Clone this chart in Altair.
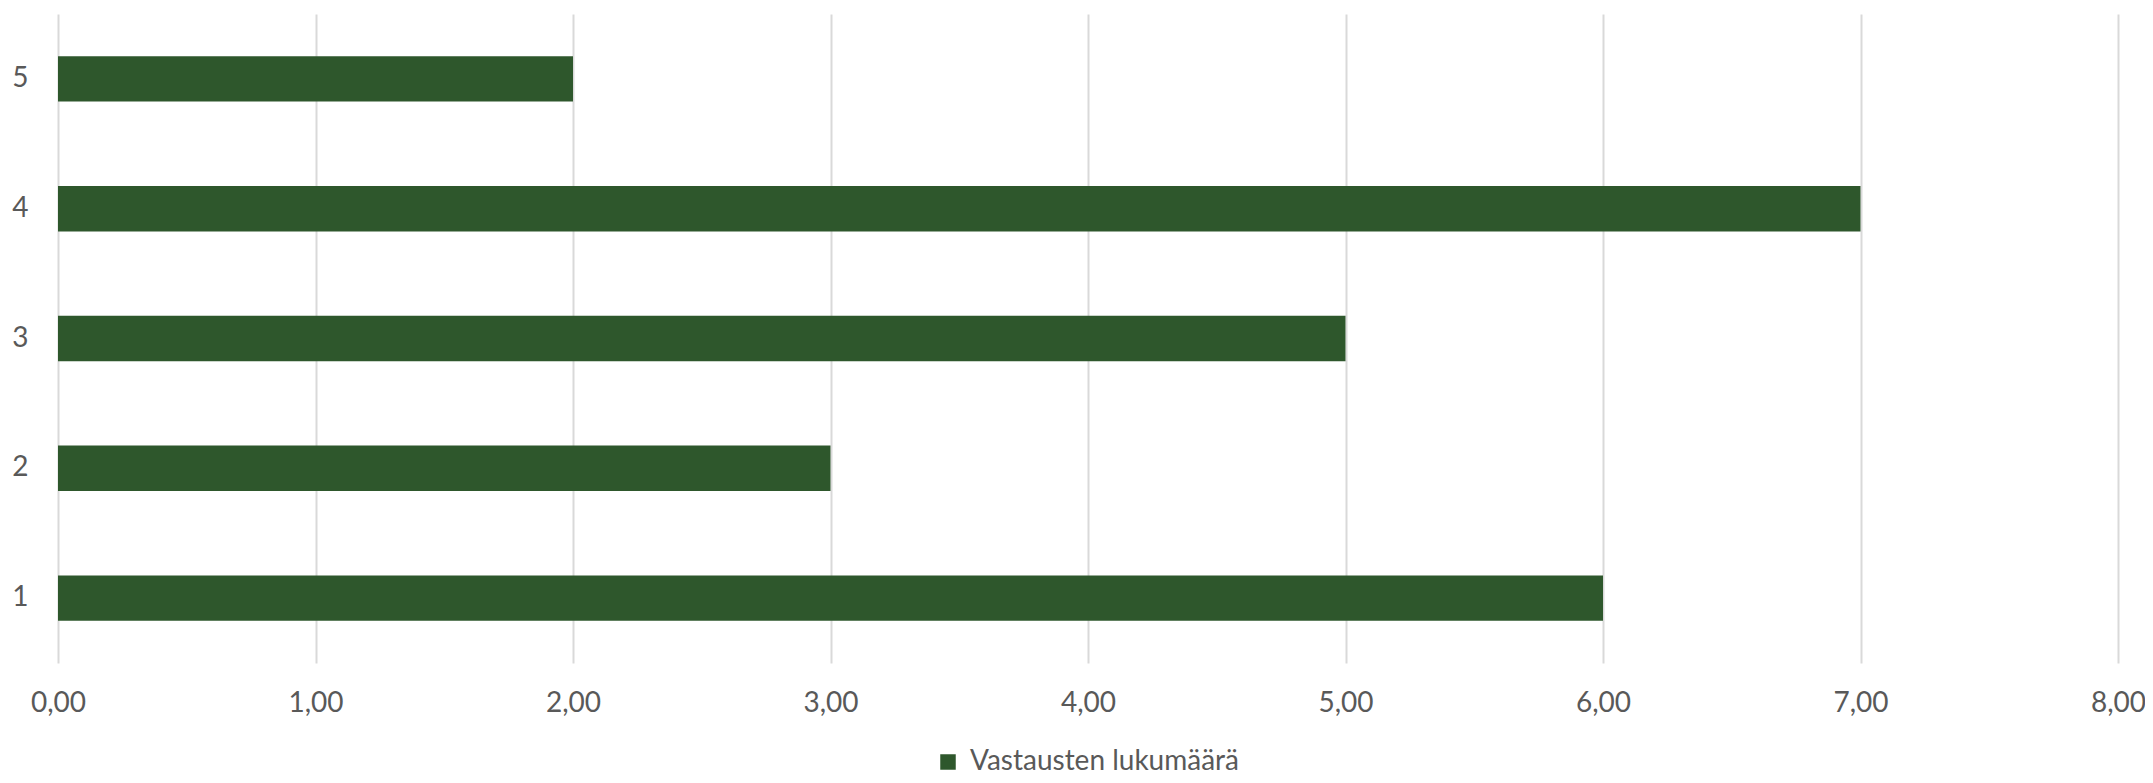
import altair as alt
import pandas as pd

categories = ["1", "2", "3", "4", "5"]
values = [6, 3, 5, 7, 2]
series_name = "Vastausten lukumäärä"
x_ticks = [0, 1, 2, 3, 4, 5, 6, 7, 8]

df = pd.DataFrame({"kategoria": categories, "arvo": values, "sarja": [series_name] * len(categories)})

FONT = "Lato"
TEXT = "#595959"
BAR = "#2e572c"

chart = alt.Chart(df).mark_bar(color=BAR).encode(
    x=alt.X(
        "arvo:Q",
        scale=alt.Scale(domain=[0, 8], nice=False),
        axis=alt.Axis(
            values=x_ticks,
            title=None,
            labelExpr="replace(format(datum.value, '.2f'), '.', ',')",
            labelFont=FONT,
            labelFontSize=28,
            labelColor=TEXT,
            labelPadding=26,
            labelFlush=False,
            labelOverlap=False,
            ticks=False,
            domain=False,
            grid=True,
            gridColor="#d9d9d9",
            gridWidth=2,
        ),
    ),
    y=alt.Y(
        "kategoria:N",
        sort="descending",
        scale=alt.Scale(paddingInner=0.65, paddingOuter=0.325),
        axis=alt.Axis(
            title=None,
            labelFont=FONT,
            labelFontSize=28,
            labelColor=TEXT,
            labelPadding=30,
            ticks=False,
            domain=False,
            grid=False,
        ),
    ),
    color=alt.Color(
        "sarja:N",
        scale=alt.Scale(range=[BAR]),
        legend=alt.Legend(
            title=None,
            orient="none",
            legendX=876,
            legendY=734,
            symbolType="square",
            symbolSize=240,
            symbolStrokeWidth=0,
            labelFont=FONT,
            labelFontSize=28,
            labelColor=TEXT,
            labelOffset=8,
            labelLimit=0,
        ),
    ),
).properties(
    width=2060,
    height=649,
    padding={"left": 50, "top": 6, "right": 27, "bottom": 112},
    autosize=alt.AutoSizeParams(type="none"),
).configure_view(stroke=None)

chart.save("out.html", embed_options={"renderer": "svg", "actions": False})
